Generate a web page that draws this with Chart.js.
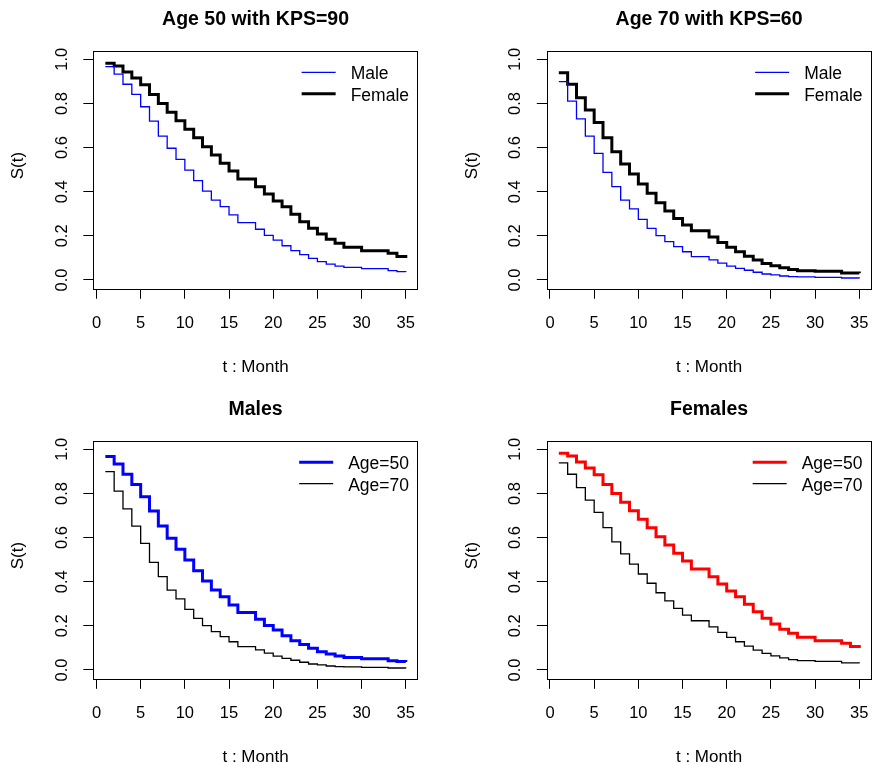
<!DOCTYPE html>
<html>
<head>
<meta charset="utf-8">
<title>Survival curves by age and sex</title>
<script src="https://cdn.jsdelivr.net/npm/chart.js@4.4.1/dist/chart.umd.min.js"></script>
<style>
  html, body { margin: 0; padding: 0; background: #fff; overflow: hidden; }
  #wrap { position: relative; width: 872px; height: 764px; }
  canvas { position: absolute; }
</style>
</head>
<body>
<div id="wrap">
  <canvas id="c1" width="436" height="382" style="left:0;top:0"></canvas>
  <canvas id="c2" width="436" height="382" style="left:436px;top:0"></canvas>
  <canvas id="c3" width="436" height="382" style="left:0;top:382px"></canvas>
  <canvas id="c4" width="436" height="382" style="left:436px;top:382px"></canvas>
</div>
<script>
const months = [1, 2, 3, 4, 5, 6, 7, 8, 9, 10, 11, 12, 13, 14, 15, 16, 17, 18,
  19, 20, 21, 22, 23, 24, 25, 26, 27, 28, 29, 30, 31, 32, 33, 34, 35];
const xTicks = [0, 5, 10, 15, 20, 25, 30, 35];
const yTicks = [0, 0.2, 0.4, 0.6, 0.8, 1.0];
const yTickLabels = ["0.0", "0.2", "0.4", "0.6", "0.8", "1.0"];

// S(t) at each month (step curves)
const maleAge50 = [0.967, 0.933, 0.887, 0.841, 0.785, 0.720, 0.652, 0.597, 0.547, 0.498,
  0.450, 0.403, 0.362, 0.332, 0.295, 0.260, 0.260, 0.230, 0.202, 0.181, 0.155, 0.133,
  0.115, 0.098, 0.083, 0.072, 0.063, 0.057, 0.057, 0.051, 0.051, 0.051, 0.042, 0.038, 0.036];
const femaleAge50 = [0.982, 0.970, 0.942, 0.915, 0.885, 0.841, 0.800, 0.760, 0.722, 0.683,
  0.645, 0.604, 0.566, 0.529, 0.494, 0.458, 0.458, 0.423, 0.390, 0.358, 0.332, 0.298,
  0.264, 0.234, 0.208, 0.184, 0.166, 0.148, 0.148, 0.133, 0.133, 0.133, 0.121, 0.106, 0.100];
const maleAge70 = [0.899, 0.811, 0.730, 0.652, 0.574, 0.488, 0.423, 0.362, 0.322, 0.275,
  0.234, 0.201, 0.174, 0.151, 0.128, 0.106, 0.106, 0.091, 0.076, 0.063, 0.053, 0.044,
  0.035, 0.027, 0.023, 0.018, 0.015, 0.014, 0.014, 0.012, 0.012, 0.012, 0.009, 0.009, 0.008];
const femaleAge70 = [0.939, 0.887, 0.826, 0.770, 0.714, 0.645, 0.581, 0.526, 0.480, 0.435,
  0.393, 0.350, 0.313, 0.279, 0.249, 0.223, 0.223, 0.195, 0.170, 0.148, 0.128, 0.108,
  0.090, 0.075, 0.064, 0.055, 0.047, 0.042, 0.042, 0.039, 0.039, 0.039, 0.032, 0.032, 0.030];

const FONT = "'Liberation Sans', Arial, Helvetica, sans-serif";
const AXIS_W = 40;
const AXIS_H = 40;

// panels: canvas, origin on page, plot box on page, curves
const panels = [
  {
    id: "c1", ox: 0, oy: 0, title: "Age 50 with KPS=90",
    box: { l: 93.3, t: 50.5, r: 417.8, b: 288.8 },
    series: [
      { label: "Male", data: maleAge50, color: "#0000ff", width: 1.3 },
      { label: "Female", data: femaleAge50, color: "#000000", width: 3 },
    ],
  },
  {
    id: "c2", ox: 436, oy: 0, title: "Age 70 with KPS=60",
    box: { l: 546.8, t: 50.5, r: 871.3, b: 288.8 },
    series: [
      { label: "Male", data: maleAge70, color: "#0000ff", width: 1.3 },
      { label: "Female", data: femaleAge70, color: "#000000", width: 3 },
    ],
  },
  {
    id: "c3", ox: 0, oy: 382, title: "Males",
    box: { l: 93.3, t: 440.5, r: 417.8, b: 678.8 },
    series: [
      { label: "Age=50", data: maleAge50, color: "#0000ff", width: 3 },
      { label: "Age=70", data: maleAge70, color: "#000000", width: 1.3 },
    ],
  },
  {
    id: "c4", ox: 436, oy: 382, title: "Females",
    box: { l: 546.8, t: 440.5, r: 871.3, b: 678.8 },
    series: [
      { label: "Age=50", data: femaleAge50, color: "#ff0000", width: 3 },
      { label: "Age=70", data: femaleAge70, color: "#000000", width: 1.3 },
    ],
  },
];

// text, box and legend in the style of base R graphics
const rPlot = {
  id: "rPlot",
  afterDraw(chart, args, opts) {
    const ctx = chart.ctx;
    const a = chart.chartArea;
    const xs = chart.scales.x;
    const ys = chart.scales.y;
    const cx = (a.left + a.right) / 2;
    ctx.save();
    ctx.fillStyle = "#000";
    ctx.strokeStyle = "#000";

    // box
    ctx.lineWidth = 1;
    ctx.strokeRect(Math.round(a.left) + 0.5, Math.round(a.top) + 0.5,
      Math.round(a.right - a.left) - 1, Math.round(a.bottom - a.top));

    // title
    ctx.font = "bold 19.5px " + FONT;
    ctx.textAlign = "center";
    ctx.textBaseline = "alphabetic";
    ctx.fillText(opts.title, cx, a.top - 25.5);

    // x tick labels
    ctx.font = "16.5px " + FONT;
    xTicks.forEach((v) => {
      ctx.fillText(String(v), xs.getPixelForValue(v), a.bottom + 39.5);
    });

    // x title
    ctx.font = "17px " + FONT;
    ctx.fillText("t : Month", cx, a.bottom + 83);

    // y tick labels, rotated
    ctx.font = "16.5px " + FONT;
    yTicks.forEach((v, i) => {
      ctx.save();
      ctx.translate(a.left - 26.6, ys.getPixelForValue(v));
      ctx.rotate(-Math.PI / 2);
      ctx.fillText(yTickLabels[i], 0, 0);
      ctx.restore();
    });

    // y title
    ctx.font = "17px " + FONT;
    ctx.save();
    ctx.translate(a.left - 70, (a.top + a.bottom) / 2 - 4);
    ctx.rotate(-Math.PI / 2);
    ctx.fillText("S(t)", 0, 0);
    ctx.restore();

    // legend, top right, no frame
    ctx.font = "17.5px " + FONT;
    ctx.textAlign = "left";
    const ds = chart.data.datasets;
    const maxW = Math.max(...ds.map((d) => ctx.measureText(d.label).width));
    const textX = a.right - 8.8 - maxW;
    ds.forEach((d, i) => {
      const base = a.top + 28.8 + i * 21.4;
      ctx.beginPath();
      ctx.lineWidth = d.borderWidth;
      ctx.strokeStyle = d.borderColor;
      ctx.moveTo(textX - 49, base - 7);
      ctx.lineTo(textX - 15, base - 7);
      ctx.stroke();
      ctx.fillText(d.label, textX, base);
    });
    ctx.restore();
  },
};

panels.forEach((p) => {
  const ctx = document.getElementById(p.id).getContext("2d");
  const cw = 436, ch = 382;

  new Chart(ctx, {
    type: "line",
    data: {
      datasets: p.series.map((s) => ({
        label: s.label,
        data: months.map((m, i) => ({ x: m, y: s.data[i] })),
        borderColor: s.color,
        borderWidth: s.width,
        stepped: "before",
        pointRadius: 0,
        fill: false,
        tension: 0,
      })),
    },
    options: {
      responsive: false,
      animation: false,
      devicePixelRatio: 1,
      layout: {
        padding: {
          left: p.box.l - p.ox - AXIS_W,
          top: p.box.t - p.oy,
          right: p.ox + cw - p.box.r,
          bottom: p.oy + ch - p.box.b - AXIS_H,
        },
      },
      plugins: {
        legend: { display: false },
        tooltip: { enabled: false },
        title: { display: false },
        rPlot: { title: p.title },
      },
      scales: {
        x: {
          type: "linear",
          min: -0.36,
          max: 36.36,
          afterBuildTicks: (scale) => {
            scale.ticks = xTicks.map((v) => ({ value: v }));
          },
          afterFit: (scale) => {
            scale.height = AXIS_H;
            scale.paddingLeft = 0;
            scale.paddingRight = 0;
          },
          ticks: { display: false },
          border: { display: false },
          grid: {
            drawOnChartArea: false,
            drawTicks: true,
            tickLength: 10,
            color: "#000",
            lineWidth: 1,
          },
        },
        y: {
          type: "linear",
          min: -0.04,
          max: 1.04,
          afterBuildTicks: (scale) => {
            scale.ticks = yTicks.map((v) => ({ value: v }));
          },
          afterFit: (scale) => {
            scale.width = AXIS_W;
            scale.paddingTop = 0;
            scale.paddingBottom = 0;
          },
          ticks: { display: false },
          border: { display: false },
          grid: {
            drawOnChartArea: false,
            drawTicks: true,
            tickLength: 10,
            color: "#000",
            lineWidth: 1,
          },
        },
      },
    },
    plugins: [rPlot],
  });
});
</script>
</body>
</html>
